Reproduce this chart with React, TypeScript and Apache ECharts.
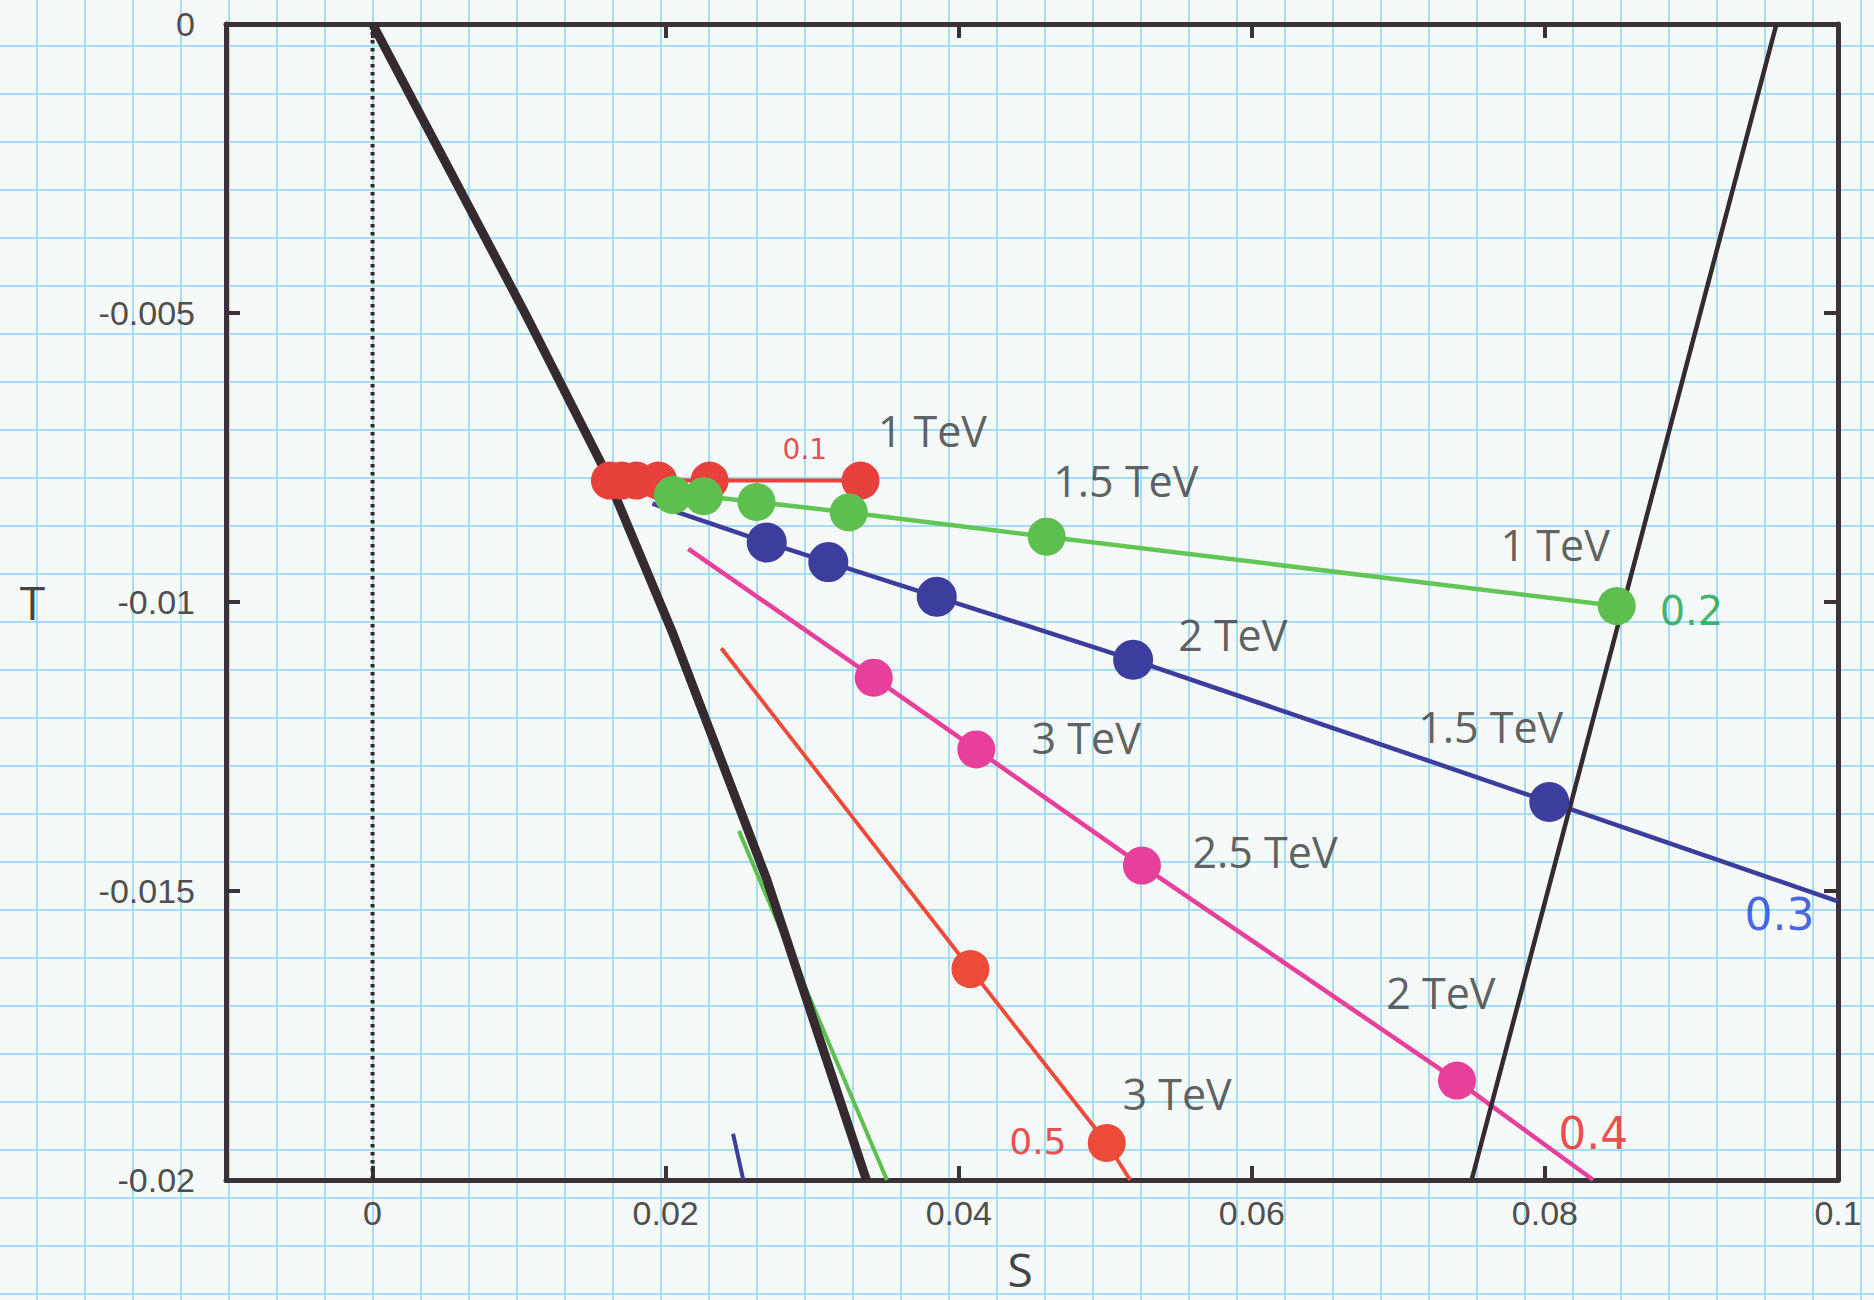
import React, { useEffect, useRef } from "react";
import * as echarts from "echarts";

// ---- axis ticks ----
const xTickValues = [0, 0.02, 0.04, 0.06, 0.08, 0.1];
const yTickValues = [0, -0.005, -0.01, -0.015, -0.02];

// ---- black boundary curves ----
const leftBoundS = [0, 0.0104, 0.0158, 0.0205, 0.0269, 0.0337];
const leftBoundT = [0, -0.005, -0.0077, -0.01055, -0.0148, -0.02];
const rightBoundS = [0.075, 0.0958];
const rightBoundT = [-0.02, 0];
const zeroLineS = [0, 0];
const zeroLineT = [0, -0.02];

// ---- 0.1 (red) ----
const red1S = [0.0162, 0.017, 0.018, 0.0195, 0.023, 0.0333];
const red1T = [-0.0079, -0.0079, -0.0079, -0.0079, -0.0079, -0.0079];

// ---- 0.2 (green) ----
const greenS = [0.0205, 0.0226, 0.0262, 0.0325, 0.046, 0.0849];
const greenT = [-0.00815, -0.00817, -0.00827, -0.00845, -0.00887, -0.01007];

// ---- 0.3 (blue) ----
const blueLineStartS = 0.0191;
const blueLineStartT = -0.0083;
const blueS = [0.0269, 0.0311, 0.0385, 0.0519, 0.0803];
const blueT = [-0.00897, -0.00931, -0.00991, -0.011, -0.01346];
const blueLineEndS = 0.1;
const blueLineEndT = -0.01518;

// ---- 0.4 (pink) ----
const pinkLineStartS = 0.02155;
const pinkLineStartT = -0.00908;
const pinkS = [0.0342, 0.0412, 0.0525, 0.074];
const pinkT = [-0.01131, -0.01255, -0.01456, -0.01828];
const pinkLineEndS = 0.0833;
const pinkLineEndT = -0.02;

// ---- 0.5 (red) ----
const red5LineStartS = 0.0238;
const red5LineStartT = -0.0108;
const red5S = [0.0408, 0.0501];
const red5T = [-0.01635, -0.01936];
const red5LineEndS = 0.0517;
const red5LineEndT = -0.02;

// ---- short extra segments near the bottom ----
const greenSegS = [0.025, 0.0351];
const greenSegT = [-0.01396, -0.02];
const blueSegS = [0.0246, 0.0253];
const blueSegT = [-0.0192, -0.02];

// ---- mass labels ----
const massText = ["1 TeV", "1.5 TeV", "1 TeV", "2 TeV", "1.5 TeV", "3 TeV", "2.5 TeV", "2 TeV", "3 TeV"];
const massS = [0.0382, 0.0514, 0.0807, 0.0587, 0.0763, 0.0487, 0.0609, 0.0729, 0.0549];
const massT = [-0.00703, -0.0079, -0.009, -0.01056, -0.01216, -0.01235, -0.01431, -0.01675, -0.01851];

// ---- handwritten notes ----
const noteText = ["0.1", "0.2", "0.3", "0.4", "0.5"];
const noteS = [0.0295, 0.09, 0.096, 0.0833, 0.0454];
const noteT = [-0.00736, -0.01015, -0.0154, -0.0192, -0.01934];

const pairs = (s: number[], t: number[]) => s.map((v, i) => [v, t[i]]);

const AX = "#3a3237";
const RED = "#e8413c";
const RED5 = "#ee4a38";
const GREEN = "#5cbf4e";
const BLUE = "#3c3d9c";
const PINK = "#e6409b";
const BLACK = "#342a2f";

const noteColors = ["#e31e1e", "#14a04c", "#1a3ee0", "#e62222", "#e62222"];
const noteSizes = [28, 40, 44, 44, 36];

const W = 1874;
const H = 1300;
const PAPER_STEP = 48;
const PAPER_X0 = 37;
const PAPER_Y0 = 46;
const PAPER_COLOR = "#a4dcf0";

function lineSeries(data: number[][], color: string, width: number, z: number, extra: any = {}) {
  return {
    type: "line",
    data,
    symbol: "none",
    showSymbol: false,
    silent: true,
    z,
    lineStyle: { color, width, ...(extra.lineStyle || {}) },
  };
}

function dotSeries(data: number[][], color: string, size: number, z: number) {
  return {
    type: "scatter",
    data,
    symbol: "circle",
    symbolSize: size,
    silent: true,
    z,
    itemStyle: { color, opacity: 1 },
  };
}

function paperGrid() {
  const els: any[] = [];
  for (let x = PAPER_X0; x < W; x += PAPER_STEP) {
    els.push({
      type: "line",
      silent: true,
      z: -10,
      shape: { x1: x, y1: 0, x2: x, y2: H },
      style: { stroke: PAPER_COLOR, lineWidth: 2 },
    });
  }
  for (let y = PAPER_Y0; y < H; y += PAPER_STEP) {
    els.push({
      type: "line",
      silent: true,
      z: -10,
      shape: { x1: 0, y1: y, x2: W, y2: y },
      style: { stroke: PAPER_COLOR, lineWidth: 2 },
    });
  }
  return els;
}

export default function App() {
  const ref = useRef<HTMLDivElement>(null);

  useEffect(() => {
    if (!ref.current) return;
    const chart = echarts.init(ref.current, undefined, { renderer: "svg" });

    const axisCommon = {
      type: "value",
      splitLine: { show: false },
      minorSplitLine: { show: false },
      axisLine: { show: true, onZero: false, lineStyle: { color: AX, width: 5 } },
    };

    const blueLine = [
      [blueLineStartS, blueLineStartT],
      ...pairs(blueS, blueT),
      [blueLineEndS, blueLineEndT],
    ];
    const pinkLine = [
      [pinkLineStartS, pinkLineStartT],
      ...pairs(pinkS, pinkT),
      [pinkLineEndS, pinkLineEndT],
    ];
    const red5Line = [
      [red5LineStartS, red5LineStartT],
      ...pairs(red5S, red5T),
      [red5LineEndS, red5LineEndT],
    ];

    const tick = {
      show: true,
      inside: true,
      length: 14,
      lineStyle: { color: AX, width: 4 },
    };

    const option: any = {
      animation: false,
      backgroundColor: "#f6f9fa",
      graphic: { elements: paperGrid() },
      grid: { left: 226, right: 36, top: 24, bottom: 120, containLabel: false },
      xAxis: [
        {
          ...axisCommon,
          position: "bottom",
          min: -0.01,
          max: 0.1,
          axisTick: { ...tick, customValues: xTickValues },
          axisLabel: {
            show: true,
            customValues: xTickValues,
            fontSize: 34,
            color: "#4e4e4e",
            fontFamily: "Liberation Sans",
            margin: 16,
          },
          name: "S",
          nameLocation: "middle",
          nameGap: 66,
          nameTextStyle: {
            fontSize: 46,
            lineHeight: 46,
            color: "#444",
            fontFamily: "Open Sans",
            verticalAlign: "top",
            padding: [0, 24, 0, 0],
          },
        },
        {
          ...axisCommon,
          position: "top",
          min: -0.01,
          max: 0.1,
          axisTick: { ...tick, customValues: xTickValues },
          axisLabel: { show: false },
        },
      ],
      yAxis: [
        {
          ...axisCommon,
          position: "left",
          min: -0.02,
          max: 0,
          interval: 0.005,
          axisTick: { ...tick, customValues: yTickValues },
          axisLabel: {
            show: true,
            customValues: yTickValues,
            fontSize: 34,
            color: "#4e4e4e",
            fontFamily: "Liberation Sans",
            margin: 31,
          },
          name: "T",
          nameLocation: "middle",
          nameRotate: 0,
          nameGap: 181,
          nameTextStyle: { fontSize: 46, color: "#444", fontFamily: "Open Sans" },
        },
        {
          ...axisCommon,
          position: "right",
          min: -0.02,
          max: 0,
          interval: 0.005,
          axisTick: { ...tick, customValues: yTickValues },
          axisLabel: { show: false },
        },
      ],
      series: [
        lineSeries(pairs(zeroLineS, zeroLineT), "#2f2a2d", 4, 1, { lineStyle: { type: [3.5, 4.5] } }),
        lineSeries(pairs(greenSegS, greenSegT), GREEN, 4, 2),
        lineSeries(pairs(blueSegS, blueSegT), BLUE, 4, 2),
        lineSeries(pairs(leftBoundS, leftBoundT), BLACK, 9, 3, { lineStyle: { join: "round" } }),
        lineSeries(blueLine, BLUE, 4.5, 3),
        lineSeries(pinkLine, PINK, 4.5, 3),
        lineSeries(red5Line, RED5, 3.8, 3),
        lineSeries(pairs(greenS, greenT), "#62c657", 4.5, 3),
        lineSeries(pairs(red1S, red1T), RED, 4, 3),
        lineSeries(pairs(rightBoundS, rightBoundT), BLACK, 4.5, 4),
        dotSeries(pairs(blueS, blueT), BLUE, 40, 5),
        dotSeries(pairs(pinkS, pinkT), PINK, 38, 5),
        dotSeries(pairs(red5S, red5T), RED5, 38, 5),
        dotSeries(pairs(red1S, red1T), RED, 38, 6),
        dotSeries(pairs(greenS, greenT), GREEN, 38, 7),
        {
          type: "scatter",
          silent: true,
          z: 8,
          symbol: "circle",
          symbolSize: 1,
          itemStyle: { color: "rgba(0,0,0,0)" },
          data: massText.map((txt, i) => ({ name: txt, value: [massS[i], massT[i]] })),
          label: {
            show: true,
            position: "inside",
            formatter: "{b}",
            fontSize: 43,
            color: "#383838",
            fontFamily: "Open Sans",
          },
        },
        {
          type: "scatter",
          silent: true,
          z: 8,
          symbol: "circle",
          symbolSize: 1,
          itemStyle: { color: "rgba(0,0,0,0)" },
          data: noteText.map((txt, i) => ({
            name: txt,
            value: [noteS[i], noteT[i]],
            label: { color: noteColors[i], fontSize: noteSizes[i] },
          })),
          label: {
            show: true,
            position: "inside",
            formatter: "{b}",
            fontFamily: "DejaVu Sans",
            fontWeight: "normal",
          },
        },
      ],
    };

    chart.setOption(option);
    return () => chart.dispose();
  }, []);

  return (
    <div
      ref={ref}
      style={{
        position: "absolute",
        left: 0,
        top: 0,
        width: W,
        height: H,
      }}
    />
  );
}
